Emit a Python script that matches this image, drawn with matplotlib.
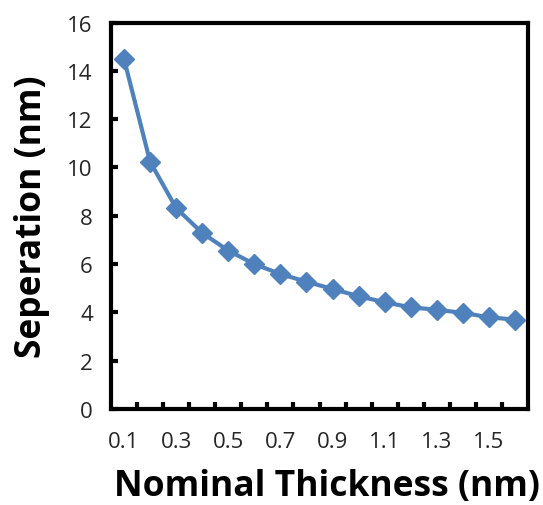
import numpy as np
import matplotlib
matplotlib.use("Agg")
import matplotlib.pyplot as plt

# nominal thickness categories (nm) and measured separation (nm)
thickness = [0.1, 0.2, 0.3, 0.4, 0.5, 0.6, 0.7, 0.8, 0.9, 1.0,
             1.1, 1.2, 1.3, 1.4, 1.5, 1.6]
separation = [14.49, 10.24, 8.32, 7.29, 6.56, 6.0, 5.59, 5.27, 4.97, 4.67,
              4.42, 4.21, 4.11, 3.98, 3.80, 3.70]
y_ticks = [0, 2, 4, 6, 8, 10, 12, 14, 16]

blue = "#4f81bd"
plt.rcParams["font.family"] = ["Open Sans", "DejaVu Sans"]

fig = plt.figure(figsize=(5.43, 5.06), dpi=100)
ax = fig.add_axes([0.2044, 0.1897, 0.7680, 0.7637])

pos = np.arange(len(thickness))
ax.plot(pos, separation, "-", color=blue, lw=3, marker="D", ms=10,
        mfc=blue, mec=blue, mew=1, zorder=3)

ax.set_xlim(-0.5, len(thickness) - 0.5)
ax.set_ylim(0, 16)

# category axis: labels every other category, tick marks between categories
ax.set_xticks(pos[::2])
ax.set_xticklabels([f"{t:.1f}" for t in thickness[::2]])
ax.set_xticks(pos[:-1] + 0.5, minor=True)
ax.tick_params(axis="x", which="major", length=0, pad=16)
ax.tick_params(axis="x", which="minor", direction="in", length=5, width=3)

ax.set_yticks(y_ticks)
ax.tick_params(axis="y", direction="in", length=5, width=3, pad=13)
ax.tick_params(labelsize=16, labelcolor="#262626")

for sp in ax.spines.values():
    sp.set_linewidth(3)
    sp.set_color("black")

ax.set_xlabel("Nominal Thickness (nm)", fontsize=25.5, fontweight="bold")
ax.set_ylabel("Seperation (nm)", fontsize=25.5, fontweight="bold")
ax.xaxis.set_label_coords(0.517, -0.153)
ax.yaxis.set_label_coords(-0.146, 0.5)

fig.savefig("out.png", dpi=100)
